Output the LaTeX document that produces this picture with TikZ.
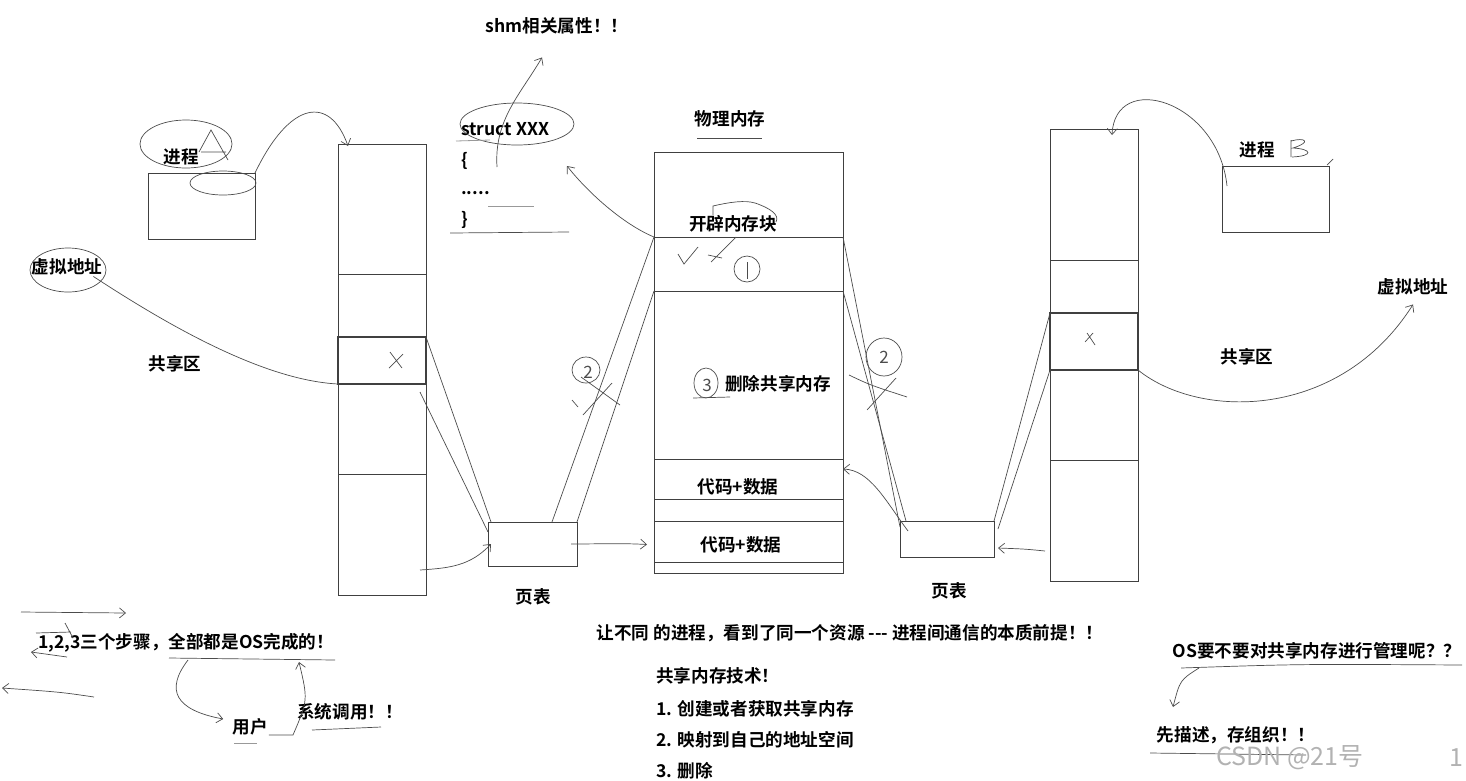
\documentclass[tikz,border=0pt]{standalone}
\usepackage{fontspec}
\setmainfont{Noto Sans CJK SC}[BoldFont={Noto Sans CJK SC Bold}]
\usetikzlibrary{arrows.meta}

\begin{document}
\begin{tikzpicture}[x=1pt, y=-1pt,
  >={Straight Barb[length=6pt,width=10pt]},
  kasten/.style={draw=black!75, line width=0.9pt, inner sep=0pt, outer sep=0pt, anchor=north west},
  txt/.style={font=\fontsize{17.6}{20}\selectfont\bfseries, inner sep=1pt},
  hand/.style={font=\fontsize{17}{20}\selectfont, inner sep=0pt, text=black!70},
  bi/.style={draw=black!70, line width=0.7pt},
  hui/.style={draw=black!40, line width=0.8pt}]
\useasboundingbox (0,0) rectangle (1466,780);
% 进程A
\node[kasten, minimum width=107, minimum height=66] (procA) at (148,173) {};
\node[txt] (procAl) at (181,157) {进程};
\draw[bi] (186,144) ellipse (46pt and 24pt);
\draw[bi] (199,152) -- (211,130) -- (228,160) (201,152) -- (226,152);
\draw[bi] (223,183) ellipse (33pt and 12pt);
% 左边的虚拟地址空间
\node[kasten, minimum width=88, minimum height=451] (colA) at (338,144) {};
\draw[bi, draw=black!75] (338,274) -- (426,274) (338,474) -- (426,474);
\node[kasten, minimum width=88, minimum height=47, line width=1.1pt] (shA) at (338,337) {};
\draw[bi] (390,352) -- (402,368) (389,368) -- (403,354);
\node[txt] (vaA) at (67,267) {虚拟地址};
\draw[bi] (68,270) ellipse (38pt and 22pt);
\node[txt] (shlA) at (175,364) {共享区};
% 页表
\node[kasten, minimum width=89, minimum height=44] (ptA) at (488,522) {};
\node[txt] (ptAl) at (533,597) {页表};
\node[kasten, minimum width=94, minimum height=36] (ptB) at (900,521) {};
\node[txt] (ptBl) at (949,591) {页表};
% 物理内存
\node[txt] (meml) at (730,119) {物理内存};
\draw[bi] (697,138) -- (762,138);
\node[kasten, minimum width=189, minimum height=421] (mem) at (654,152) {};
\node[kasten, minimum width=189, minimum height=54] (blk) at (654,237) {};
\node[txt] (blkl) at (733,224) {开辟内存块};
\draw[bi] (713,215) -- (713,206) .. controls (730,202) and (745,200) .. (755,203) .. controls (770,208) and (780,215) .. (776,222);
\draw[bi] (678,254) -- (684,264) -- (698,247);
\draw[bi] (708,255) -- (722,258) (711,262) -- (736,237);
\draw[bi] (747,269) ellipse (13pt and 13pt);
\draw[bi] (747,262) -- (747,279);
\node[kasten, minimum width=189, minimum height=40] (cd1) at (654,459) {};
\node[txt] (cd1l) at (738,487) {代码+数据};
\node[kasten, minimum width=189, minimum height=41] (cd2) at (654,521) {};
\node[txt] (cd2l) at (741,545) {代码+数据};
\node[txt] (dell) at (778,384) {删除共享内存};
\draw[bi] (706,383) ellipse (12pt and 15pt);
\node[hand] at (707,385) {3};
\draw[bi] (693,398) -- (730,397);
% 右边的虚拟地址空间
\node[kasten, minimum width=88, minimum height=452] (colB) at (1050,129) {};
\draw[bi, draw=black!75] (1050,260) -- (1138,260) (1050,460) -- (1138,460);
\node[kasten, minimum width=88, minimum height=57, line width=1.1pt] (shB) at (1050,313) {};
\draw[bi] (1087,333) -- (1095,345) (1085,342) -- (1093,333);
% 进程B
\node[kasten, minimum width=107, minimum height=66] (procB) at (1222,166) {};
\node[txt] (procBl) at (1257,150) {进程};
\draw[bi] (1291,140) -- (1291,157) (1291,141) .. controls (1305,137) and (1312,142) .. (1293,148) .. controls (1312,149) and (1314,156) .. (1292,157);
\draw[bi] (1327,165) -- (1333,159);
\node[txt] (vaB) at (1413,287) {虚拟地址};
\node[txt] (shlB) at (1247,357) {共享区};
% 连线
\draw[bi] ([xshift=-10pt]vaA.south east) .. controls (160,320) and (260,380) .. (shA.south west);
\draw[bi,->] (procA.north east) .. controls (290,100) and (330,95) .. ([xshift=10pt,yshift=-2pt]colA.north west);
\draw[bi] (shA.north east) -- ([xshift=3pt]ptA.north west);
\draw[bi] ([xshift=-6pt,yshift=-8pt]shA.south east) -- ([yshift=-10pt]ptA.north west);
\coordinate (a1) at (420,570);
\draw[bi,->] (a1) .. controls (450,568) and (470,566) .. ([xshift=3pt]ptA.west);
\draw[bi,->] ([xshift=-6pt]ptA.east) .. controls (600,544) and (620,543) .. ([xshift=-7pt,yshift=-3pt]cd2.west);
\draw[bi] ([xshift=64pt]ptA.north west) -- (blk.north west);
\draw[bi] (ptA.north east) -- (blk.south west);
\draw[bi] (blk.north east) -- ([yshift=-6pt]ptB.north west);
\draw[bi] (blk.south east) -- ([xshift=6pt]ptB.north west);
\draw[bi,->] ([xshift=8pt,yshift=-10pt]ptB.north west) .. controls (885,500) and (870,470) .. ([yshift=10pt]cd1.east);
\coordinate (b1) at (1045,551);
\draw[bi,->] (b1) .. controls (1025,549) .. ([xshift=4pt,yshift=-9pt]ptB.east);
\draw[bi] (shB.north west) -- (ptB.north east);
\draw[bi] (shB.south west) -- ([xshift=4pt,yshift=-8pt]ptB.north east);
\draw[bi,->] ([xshift=5pt,yshift=-20pt]procB.north west) .. controls (1218,100) and (1115,70) .. ([xshift=62pt,yshift=-6pt]colB.north west);
\draw[bi,->] (shB.south east) .. controls (1200,420) and (1340,420) .. ([yshift=-8pt]vaB.south);
% ② 映射
\draw[bi] (586,370) ellipse (14pt and 13pt);
\node[hand] at (588,372) {2};
\draw[bi] (581,377) -- (620,405) (583,415) -- (612,383) (572,400) -- (578,407);
\draw[bi] (884,357) ellipse (18pt and 19pt);
\node[hand] at (884,357) {2};
\draw[bi] (849,375) .. controls (870,385) .. (907,397) (867,410) -- (896,378);
% struct
\node[txt, anchor=west] (st) at (460,129) {struct XXX};
\node[txt, anchor=west] (ob) at (460,161) {\{};
\node[txt, anchor=west] (dt) at (460,193) {.....};
\node[txt, anchor=west] (cb) at (460,220) {\}};
\draw[bi] (517,124) ellipse (57pt and 21pt);
\draw[hui] (456,141) -- (490,140);
\draw[hui] (488,206) -- (534,206);
\draw[bi] (450,233) -- (569,232);
\node[txt] (shm) at (557,26) {shm相关属性！！};
\coordinate (s0) at (497,167);
\draw[bi,->] (s0) .. controls (494,120) and (520,95) .. ([xshift=-15pt,yshift=-22pt]shm.south);
\coordinate (s1) at (567,166);
\draw[bi,->] (blk.north west) .. controls (625,225) and (590,195) .. (s1);
% 下面的文字
\node[txt] (note) at (850,633) {让不同 的进程，看到了同一个资源 -{}-{}- 进程间通信的本质前提！！};
\node[txt, anchor=west] (tech) at (655,676) {共享内存技术！};
\node[txt, anchor=west] (s1l) at (655,709) {1. 创建或者获取共享内存};
\node[txt, anchor=west] (s2l) at (655,740) {2. 映射到自己的地址空间};
\node[txt, anchor=west] (s3l) at (655,771) {3. 删除};
\node[txt] (os) at (1317,651) {OS要不要对共享内存进行管理呢？？};
\draw[bi] (1181,668) .. controls (1300,664) .. (1462,665);
\coordinate (o1) at (1199,668);
\draw[bi,->] (o1) .. controls (1180,680) .. (1173,707);
\node[txt] (desc) at (1236,735) {先描述，存组织！！};
\draw[bi] (1150,753) -- (1306,755);
\node[font=\fontsize{25}{26}\selectfont, text=black!30, inner sep=0pt] (wm) at (1290,758) {CSDN @21号};
\node[font=\fontsize{25}{26}\selectfont, text=black!30, inner sep=0pt] (wm1) at (1456,758) {1};
% 左下角
\node[txt] (steps) at (186,643) {1,2,3三个步骤，全部都是OS完成的！};
\draw[bi] (169,658) -- (335,660);
\draw[bi,->] (21,612) -- (126,613);
\draw[bi] (36,633) -- (71,632) (65,623) -- (73,638);
\draw[bi,->] (67,657) -- (31,652);
\draw[bi,->] (94,697) .. controls (60,692) .. (2,688);
\node[txt] (user) at (250,727) {用户};
\draw[hui] (234,743) -- (257,743);
\node[txt] (sys) at (350,712) {系统调用！！};
\draw[bi] (312,730) -- (381,727);
\draw[bi,->] (188,660) .. controls (165,690) and (175,710) .. ([xshift=-8pt,yshift=8pt]user.west);
\coordinate (u1) at (299,662);
\draw[bi,->] ([yshift=-8pt]user.east) -- (293,735) .. controls (308,700) .. (u1);
\end{tikzpicture}
\end{document}
